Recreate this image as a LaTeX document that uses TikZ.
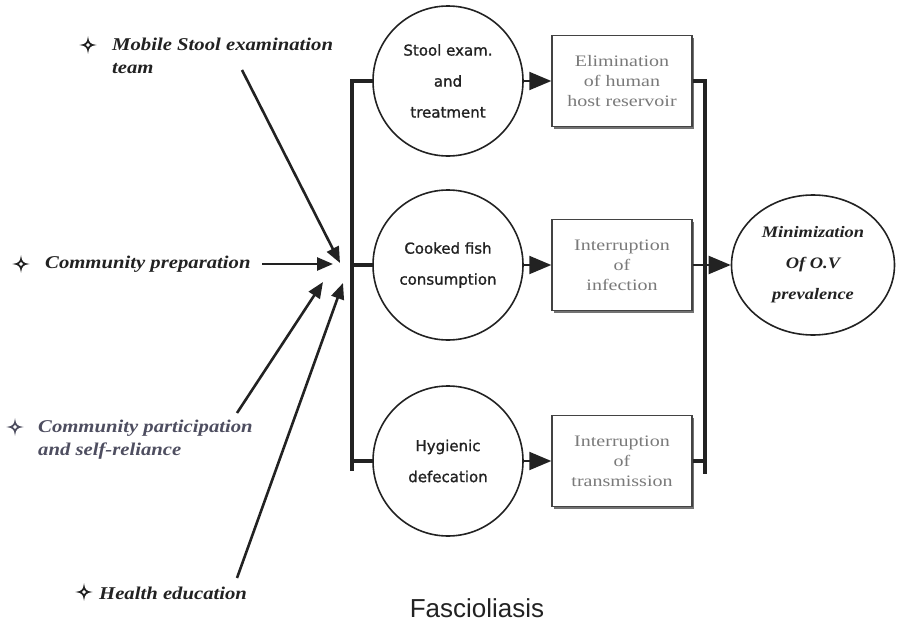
\documentclass[tikz,border=0pt]{standalone}
\usepackage{fontspec}
\setmainfont{Liberation Serif}
\newfontfamily\lblfont[FakeStretch=1.15]{Liberation Serif}
\newfontfamily\boxfont[FakeStretch=1.25]{Liberation Serif}
\newfontfamily\circfont[FakeBold=1.2]{DejaVu Sans}
\newfontfamily\capfont{Liberation Sans}
\newfontfamily\bulfont[FakeBold=4]{DejaVu Sans}
\usetikzlibrary{arrows.meta,shapes.geometric,shadows}
\definecolor{ink}{HTML}{222222}
\definecolor{boxtext}{HTML}{7A7A7A}
\definecolor{paleink}{HTML}{4E4E60}

\begin{document}
\begin{tikzpicture}[x=1pt,y=-1pt,
  lbl/.style={anchor=west, inner sep=0pt, align=left, text=ink, font=\lblfont\bfseries\itshape\fontsize{18}{23}\selectfont},
  bullet/.style={inner sep=0pt, text=ink, font=\bulfont\fontsize{18}{18}\selectfont},
  act/.style={draw=ink, circle, line width=1.6pt, minimum size=150pt, inner sep=0pt, align=center, text=ink, font=\circfont\fontsize{15}{31}\selectfont},
  res/.style={draw=ink!85, line width=1.4pt, rectangle, fill=white, minimum width=140pt, minimum height=91pt, align=center, text=boxtext, font=\boxfont\fontsize{16}{20}\selectfont, drop shadow={shadow xshift=2pt, shadow yshift=-2pt, fill=black!55, opacity=1}},
  bus/.style={draw=ink, line width=3.5pt},
  flow/.style={draw=ink, line width=2pt, -{Triangle[length=22pt,width=18pt]}},
  feed/.style={draw=ink, line width=2.6pt, -{Triangle[length=16pt,width=13pt]}}]
\useasboundingbox (0,0) rectangle (900,629);

% inputs on the left
\node[lbl] (mst) at (112,56) {Mobile Stool examination\\team};
\node[bullet] (bm) at (88,45) {✧};
\node[lbl] (cpr) at (45,264) {Community preparation};
\node[bullet] (bc) at (21,264) {✧};
\node[lbl, text=paleink] (cpa) at (38,440) {Community participation\\and self-reliance};
\node[bullet, text=paleink] (bp) at (15,427) {✧};
\node[lbl] (hed) at (99,593) {Health education};
\node[bullet] (bh) at (84,592) {✧};

% activities and results
\node[act] (se) at (448,81) {Stool exam.\\and\\treatment};
\node[act] (cf) at (448,265) {Cooked fish\\consumption};
\node[act] (hd) at (448,461) {Hygienic\\defecation};
\node[res] (eh) at (622,81) {Elimination\\of human\\host reservoir};
\node[res] (ii) at (622,265) {Interruption\\of\\infection};
\node[res] (it) at (622,461) {Interruption\\of\\transmission};
\node[draw=ink, ellipse, line width=1.6pt, minimum width=163pt, minimum height=140pt, inner sep=0pt, align=center, text=ink, font=\lblfont\bfseries\itshape\fontsize{16}{31}\selectfont] (mop) at (813,265) {Minimization\\Of O.V\\prevalence};
\node[text=ink, font=\capfont\fontsize{26}{26}\selectfont] (fas) at (477,608) {Fascioliasis};

% bus lines
\coordinate (lbt) at (352,81);
\coordinate (lbb) at (352,471);
\coordinate (rbt) at (705,81);
\coordinate (rbb) at (705,474);
\draw[bus] (se.west) -- (lbt) -- (lbb);
\draw[bus] (cf.west) -- (cf.west -| lbt);
\draw[bus] (hd.west) -- (hd.west -| lbt);
\draw[bus] (eh.east) -- (rbt) -- (rbb);
\draw[bus] (it.east) -- (it.east -| rbt);

\draw[flow] (se.east) -- (eh.west);
\draw[flow] (cf.east) -- (ii.west);
\draw[flow] (hd.east) -- (it.west);
\draw[flow] (ii.east) -- (mop.west);

% arrows into the bus
\coordinate (m0) at (242,70);
\coordinate (m1) at (340,263);
\coordinate (p0) at (262,264);
\coordinate (p1) at (333,264);
\coordinate (a0) at (237,413);
\coordinate (a1) at (323,282);
\coordinate (h0) at (237,578);
\coordinate (h1) at (343,283);
\draw[feed] (m0) -- (m1);
\draw[feed] (p0) -- (p1);
\draw[feed] (a0) -- (a1);
\draw[feed] (h0) -- (h1);
\end{tikzpicture}
\end{document}
